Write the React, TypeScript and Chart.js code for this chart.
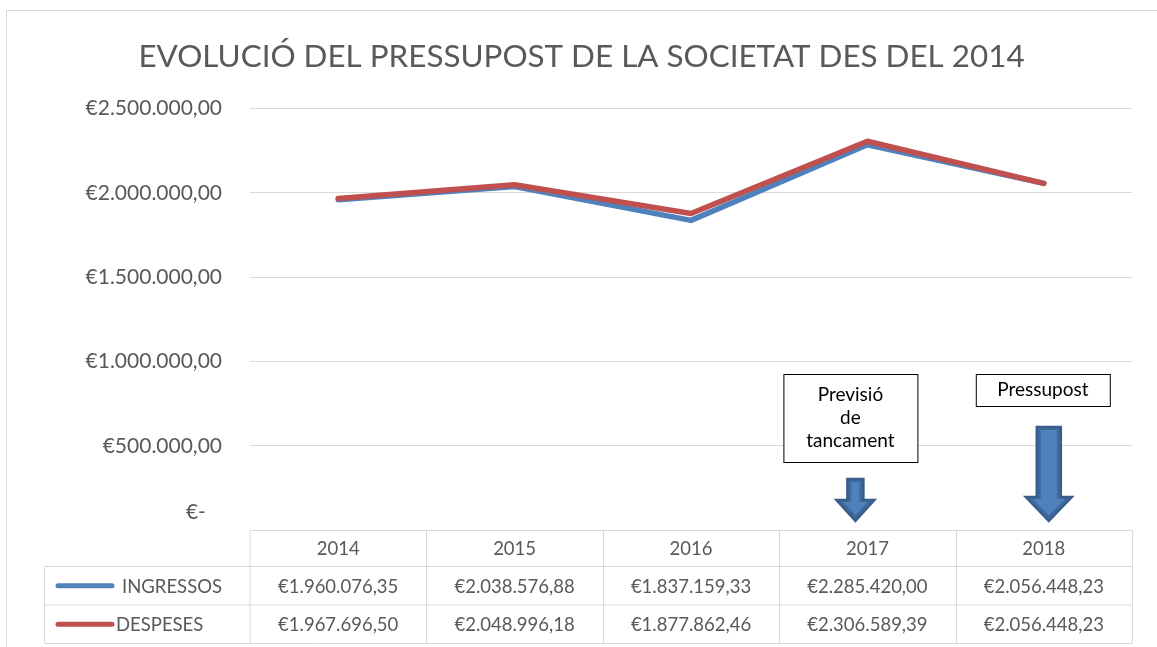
import React, { useEffect, useRef } from "react";
import { Chart, registerables } from "chart.js";

Chart.register(...registerables);

const TITLE = "EVOLUCIÓ DEL PRESSUPOST DE LA SOCIETAT DES DEL 2014";
const CATEGORIES = ["2014", "2015", "2016", "2017", "2018"];
const INGRESSOS = [1960076.35, 2038576.88, 1837159.33, 2285420.0, 2056448.23];
const DESPESES = [1967696.5, 2048996.18, 1877862.46, 2306589.39, 2056448.23];
const SERIES_NAMES = ["INGRESSOS", "DESPESES"];
const Y_MIN = 0;
const Y_MAX = 2500000;
const Y_STEP = 500000;
const NOTE_2017 = ["Previsió", "de", "tancament"];
const NOTE_2018 = ["Pressupost"];

const BLUE = "#4F81BD";
const RED = "#C0504D";
const GRID = "#D9D9D9";
const TEXT = "#595959";
const FONT = "Lato";

function euro(v: number): string {
  if (v === 0) return "€-";
  const [i, d] = v.toFixed(2).split(".");
  return "€" + i.replace(/\B(?=(\d{3})+(?!\d))/g, ".") + "," + d;
}

const tablePlugin = {
  id: "tablePlugin",
  afterDraw(chart: any) {
    const ctx = chart.ctx as CanvasRenderingContext2D;
    const xs = chart.scales.x;
    const area = chart.chartArea;
    const step = xs.getPixelForValue(1) - xs.getPixelForValue(0);
    ctx.save();

    // outer chart border (top & left)
    ctx.strokeStyle = GRID;
    ctx.lineWidth = 1;
    ctx.beginPath();
    ctx.moveTo(6.5, chart.height + 2);
    ctx.lineTo(6.5, 10.5);
    ctx.lineTo(chart.width + 2, 10.5);
    ctx.stroke();

    // data table
    const top = area.bottom;
    const r1 = top + 36.5;
    const r2 = top + 75;
    const bottom = top + 113.5;
    const legendLeft = 44.5;
    ctx.beginPath();
    ctx.moveTo(area.left, top);
    ctx.lineTo(area.left, bottom);
    ctx.moveTo(legendLeft, r1);
    ctx.lineTo(area.right, r1);
    ctx.moveTo(legendLeft, r2);
    ctx.lineTo(area.right, r2);
    ctx.moveTo(legendLeft, bottom);
    ctx.lineTo(area.right, bottom);
    ctx.moveTo(legendLeft, r1);
    ctx.lineTo(legendLeft, bottom);
    for (let i = 0; i < CATEGORIES.length; i++) {
      const xr = Math.round(xs.getPixelForValue(i) + step / 2) + 0.5;
      ctx.moveTo(xr, top);
      ctx.lineTo(xr, bottom);
    }
    ctx.stroke();

    ctx.fillStyle = TEXT;
    ctx.font = `18.5px ${FONT}`;
    ctx.textAlign = "center";
    ctx.textBaseline = "middle";
    const rowsY = [(top + r1) / 2 + 1, (r1 + r2) / 2 + 1, (r2 + bottom) / 2 + 1];
    const series = [INGRESSOS, DESPESES];
    for (let i = 0; i < CATEGORIES.length; i++) {
      const cx = xs.getPixelForValue(i);
      ctx.fillText(CATEGORIES[i], cx, rowsY[0]);
      ctx.fillText(euro(series[0][i]), cx, rowsY[1]);
      ctx.fillText(euro(series[1][i]), cx, rowsY[2]);
    }
    // legend keys
    const colors = [BLUE, RED];
    const textX = [122, 116];
    ctx.textAlign = "left";
    for (let s = 0; s < 2; s++) {
      ctx.strokeStyle = colors[s];
      ctx.lineWidth = 5;
      ctx.lineCap = "round";
      ctx.beginPath();
      ctx.moveTo(58, rowsY[s + 1] - 1);
      ctx.lineTo(112, rowsY[s + 1] - 1);
      ctx.stroke();
      ctx.fillStyle = TEXT;
      ctx.fillText(SERIES_NAMES[s], textX[s], rowsY[s + 1]);
    }

    // annotation boxes
    ctx.lineCap = "butt";
    const drawBox = (x: number, y: number, w: number, h: number, lines: string[]) => {
      ctx.fillStyle = "#FFFFFF";
      ctx.fillRect(x, y, w, h);
      ctx.strokeStyle = "#000000";
      ctx.lineWidth = 1;
      ctx.strokeRect(x + 0.5, y + 0.5, w, h);
      ctx.fillStyle = "#000000";
      ctx.font = `19px ${FONT}`;
      ctx.textAlign = "center";
      ctx.textBaseline = "middle";
      const lh = 23;
      const startY = y + h / 2 - ((lines.length - 1) * lh) / 2;
      lines.forEach((t, k) => ctx.fillText(t, x + w / 2, startY + k * lh));
    };
    const c17 = xs.getPixelForValue(3);
    const c18 = xs.getPixelForValue(4);
    drawBox(c17 - 84, area.bottom - 156, 134, 88, NOTE_2017);
    drawBox(c18 - 68, area.bottom - 156, 134, 32, NOTE_2018);

    const arrowPath = (cx: number, shaftTop: number, headTop: number, tip: number, sw: number, hw: number) => {
      ctx.beginPath();
      ctx.moveTo(cx - sw, shaftTop);
      ctx.lineTo(cx + sw, shaftTop);
      ctx.lineTo(cx + sw, headTop);
      ctx.lineTo(cx + hw, headTop);
      ctx.lineTo(cx, tip);
      ctx.lineTo(cx - hw, headTop);
      ctx.lineTo(cx - sw, headTop);
      ctx.closePath();
    };
    const drawArrow = (cx: number, shaftTop: number, headTop: number, tip: number, sw: number, hw: number) => {
      arrowPath(cx, shaftTop, headTop, tip, sw, hw);
      ctx.fillStyle = "#3F6A9E";
      ctx.fill();
      ctx.strokeStyle = "#385D8A";
      ctx.lineWidth = 2.5;
      ctx.lineJoin = "miter";
      ctx.stroke();
      // inner bevel highlight
      arrowPath(cx, shaftTop + 3, headTop + 2, tip - 6, sw - 4, hw - 7);
      ctx.fillStyle = BLUE;
      ctx.fill();
    };
    drawArrow(c17 - 12, area.bottom - 51, area.bottom - 30, area.bottom - 9, 8, 19);
    drawArrow(c18 + 5, area.bottom - 103, area.bottom - 33, area.bottom - 9, 12, 23);

    ctx.restore();
  },
};

export default function App() {
  const ref = useRef<HTMLCanvasElement | null>(null);
  useEffect(() => {
    if (!ref.current) return;
    const chart = new Chart(ref.current, {
      type: "line",
      data: {
        labels: CATEGORIES,
        datasets: [
          {
            label: SERIES_NAMES[0],
            data: INGRESSOS,
            borderColor: BLUE,
            backgroundColor: BLUE,
            borderWidth: 5.5,
            pointRadius: 0,
            tension: 0,
            borderCapStyle: "round",
            borderJoinStyle: "round",
            order: 2,
          },
          {
            label: SERIES_NAMES[1],
            data: DESPESES,
            borderColor: RED,
            backgroundColor: RED,
            borderWidth: 5.5,
            pointRadius: 0,
            tension: 0,
            borderCapStyle: "round",
            borderJoinStyle: "round",
            order: 1,
          },
        ],
      },
      options: {
        animation: false,
        responsive: true,
        maintainAspectRatio: false,
        layout: { padding: { left: 6, top: 10, right: 0, bottom: 117 } },
        plugins: {
          legend: { display: false },
          tooltip: { enabled: false },
          title: {
            display: true,
            text: TITLE,
            color: TEXT,
            font: { family: FONT, size: 31.4, weight: "normal", lineHeight: 1.2 },
            padding: { top: 28, bottom: 33 },
          },
        },
        scales: {
          x: { type: "category", offset: true, display: false },
          y: {
            min: Y_MIN,
            max: Y_MAX,
            afterFit: (s: any) => {
              s.width = 244;
            },
            border: { display: false },
            grid: { color: GRID, lineWidth: 1, drawTicks: false },
            ticks: {
              stepSize: Y_STEP,
              padding: 28,
              color: TEXT,
              font: { family: FONT, size: 21, lineHeight: 1.65 },
              callback: (v: any) => (Number(v) === 0 ? [euro(0) + "   ", ""] : euro(Number(v))),
            },
          },
          yRight: {
            position: "right",
            min: Y_MIN,
            max: Y_MAX,
            afterFit: (s: any) => {
              s.width = 25;
            },
            border: { display: false },
            grid: { display: false, drawTicks: false },
            ticks: { display: false },
          },
        },
      },
      plugins: [tablePlugin],
    });
    return () => chart.destroy();
  }, []);
  return (
    <div style={{ position: "absolute", left: 0, top: 0, width: 1157, height: 647, background: "#fff" }}>
      <canvas ref={ref} />
    </div>
  );
}
